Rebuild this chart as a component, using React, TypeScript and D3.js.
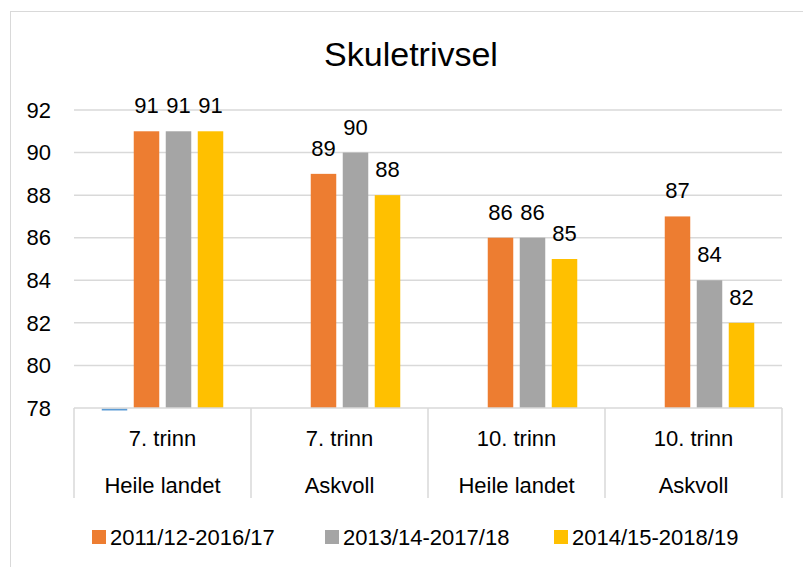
import React from "react";
import * as d3 from "d3";

const title = "Skuletrivsel";
const categories = [
  ["7. trinn", "Heile landet"],
  ["7. trinn", "Askvoll"],
  ["10. trinn", "Heile landet"],
  ["10. trinn", "Askvoll"],
];
const seriesNames = ["", "2011/12-2016/17", "2013/14-2017/18", "2014/15-2018/19"];
const seriesColors = ["#5B9BD5", "#ED7D31", "#A5A5A5", "#FFC000"];
const blueValues: (number | null)[] = [78, null, null, null];
const orangeValues = [91, 89, 86, 87];
const grayValues = [91, 90, 86, 84];
const yellowValues = [91, 88, 85, 82];
const yTicks = [78, 80, 82, 84, 86, 88, 90, 92];

const W = 803;
const H = 567;
const FONT = "'Liberation Sans', Arial, sans-serif";

export default function App() {
  const plotL = 74;
  const plotR = 782;
  const plotT = 110;
  const plotB = 408;
  const series = [blueValues, orangeValues, grayValues, yellowValues];

  const y = d3.scaleLinear().domain([78, 92]).range([plotB, plotT]);
  const x0 = d3
    .scaleBand<number>()
    .domain(categories.map((_, i) => i))
    .range([plotL, plotR])
    .padding(0);
  const x1 = d3
    .scaleBand<number>()
    .domain(series.map((_, i) => i))
    .range([0, x0.bandwidth()])
    .paddingInner(0.203)
    .paddingOuter(0.867);

  const legendItems = [
    { idx: 1, x: 92 },
    { idx: 2, x: 325 },
    { idx: 3, x: 554 },
  ];

  return (
    <svg
      width={W}
      height={H}
      style={{ position: "absolute", left: 0, top: 0, background: "#fff" }}
      fontFamily={FONT}
    >
      <rect x={0} y={0} width={W} height={H} fill="#fff" />
      <rect x={10.5} y={11.5} width={1000} height={1000} fill="none" stroke="#D9D9D9" strokeWidth={1} />
      <text x={411} y={66} textAnchor="middle" fontSize={34} fill="#000">
        {title}
      </text>
      {yTicks.map((t) => (
        <g key={t}>
          {t !== 78 && (
            <line x1={plotL} x2={plotR} y1={y(t)} y2={y(t)} stroke="#D9D9D9" strokeWidth={1.5} />
          )}
          <text x={51} y={y(t)} dy="0.35em" textAnchor="end" fontSize={22} fill="#000">
            {t}
          </text>
        </g>
      ))}
      {categories.map((_, gi) =>
        series.map((vals, si) => {
          const v = vals[gi];
          if (v === null || v === undefined) return null;
          const bx = (x0(gi) as number) + (x1(si) as number);
          const bw = x1.bandwidth();
          if (v <= 78) {
            return (
              <line
                key={`${gi}-${si}`}
                x1={bx}
                x2={bx + bw}
                y1={y(78) + 1.5}
                y2={y(78) + 1.5}
                stroke={seriesColors[si]}
                strokeWidth={2}
              />
            );
          }
          return (
            <g key={`${gi}-${si}`}>
              <rect x={bx} y={y(v)} width={bw} height={y(78) - y(v)} fill={seriesColors[si]} />
              <text x={bx + bw / 2} y={y(v) - 18} textAnchor="middle" fontSize={22} fill="#000">
                {v}
              </text>
            </g>
          );
        })
      )}
      <line x1={plotL} x2={plotR} y1={plotB} y2={plotB} stroke="#D9D9D9" strokeWidth={1.5} />
      {[...categories.map((_, i) => x0(i) as number), plotR].map((sx, i) => (
        <line key={i} x1={sx} x2={sx} y1={plotB} y2={498} stroke="#D9D9D9" strokeWidth={1.5} />
      ))}
      {categories.map((c, i) => {
        const cx = (x0(i) as number) + x0.bandwidth() / 2;
        return (
          <g key={i}>
            <text x={cx} y={438} dy="0.35em" textAnchor="middle" fontSize={22} fill="#000">
              {c[0]}
            </text>
            <text x={cx} y={485} dy="0.35em" textAnchor="middle" fontSize={22} fill="#000">
              {c[1]}
            </text>
          </g>
        );
      })}
      {legendItems.map((l) => (
        <g key={l.idx}>
          <rect x={l.x} y={530} width={14} height={14} fill={seriesColors[l.idx]} />
          <text x={l.x + 18} y={537} dy="0.35em" fontSize={22} fill="#000">
            {seriesNames[l.idx]}
          </text>
        </g>
      ))}
    </svg>
  );
}
